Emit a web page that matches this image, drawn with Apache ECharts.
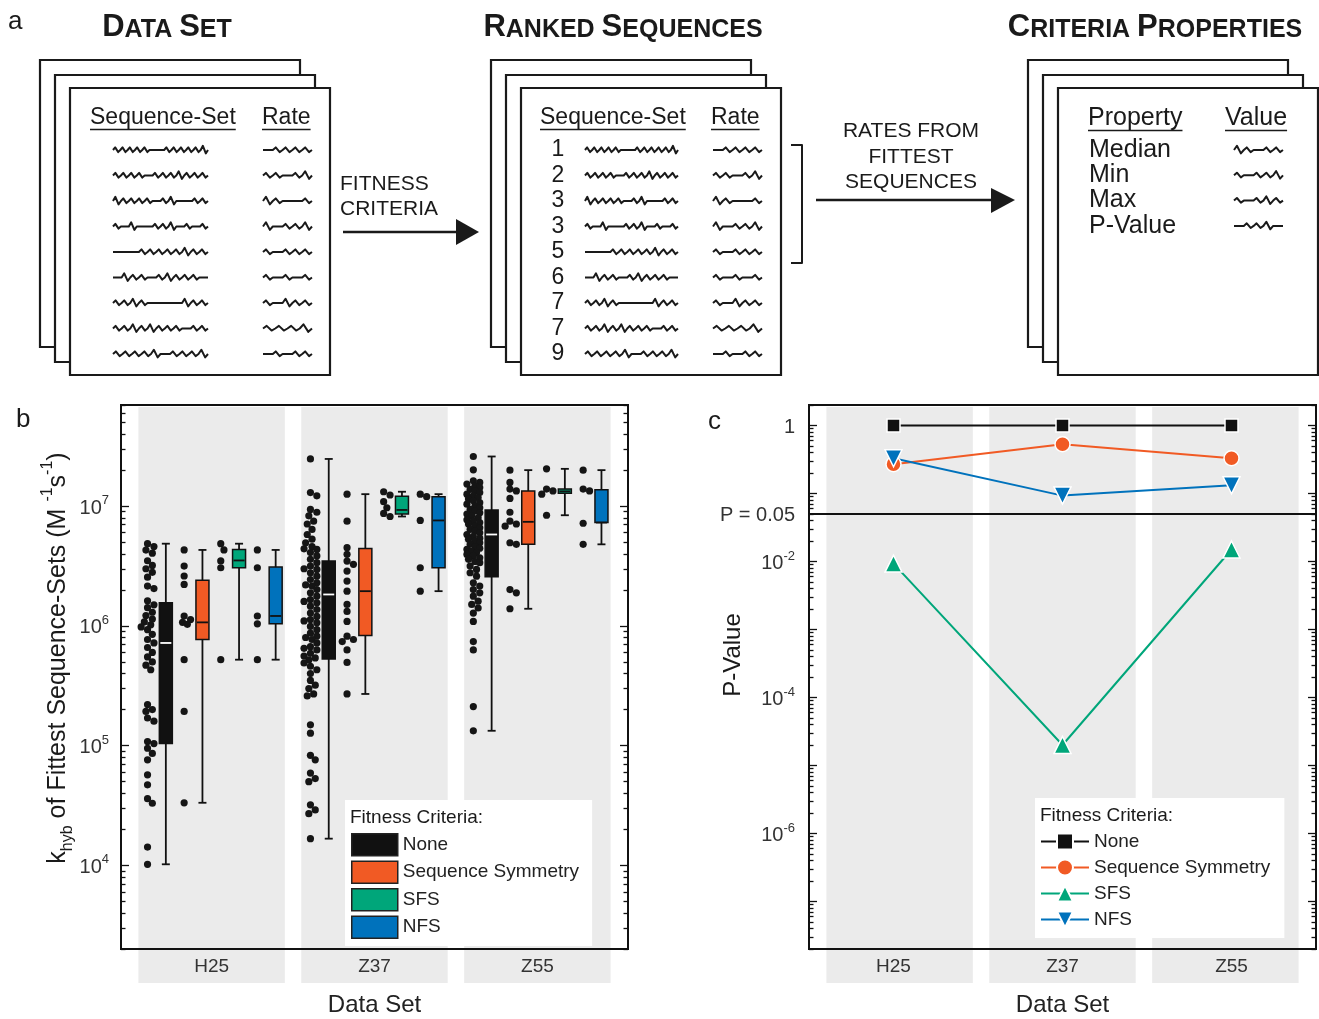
<!DOCTYPE html>
<html>
<head>
<meta charset="utf-8">
<script src="https://cdn.jsdelivr.net/npm/echarts@6/dist/echarts.min.js"></script>
<style>
  html, body { margin: 0; padding: 0; background: #fff; }
  #main { width: 1319px; height: 1019px; }
</style>
</head>
<body>
<div id="main"></div>
<script>
// ---------------- data ----------------
const dataSets = ['H25', 'Z37', 'Z55'];
const criteria = ['None', 'Sequence Symmetry', 'SFS', 'NFS'];
const criteriaColors = ['#111111', '#F15A24', '#00A67A', '#0072BC'];

// k_hyb of the fittest sequence-sets (M^-1 s^-1)
const h25None = [4.86e6, 4.6e6, 4.3e6, 4.05e6, 3.5e6, 3.2e6, 3.0e6, 2.8e6, 2.55e6, 2.15e6, 2.05e6, 1.62e6, 1.5e6, 1.42e6, 1.3e6, 1.22e6, 1.14e6, 1.08e6, 1.02e6, 9.8e5, 9.3e5, 8.5e5, 7.7e5, 7.2e5, 6.6e5, 6.0e5, 5.5e5, 5.0e5, 4.7e5, 4.3e5, 2.2e5, 2.0e5, 1.93e5, 1.7e5, 1.6e5, 1.08e5, 1.04e5, 9.5e4, 8.6e4, 7.6e4, 5.7e4, 4.7e4, 3.6e4, 3.3e4, 1.42e4, 1.02e4];
const h25Sym = [4.31e6, 3.16e6, 2.61e6, 2.22e6, 1.21e6, 1.13e6, 1.07e6, 1.03e6, 5.22e5, 1.93e5, 3.33e4];
const h25Sfs = [4.86e6, 4.31e6, 3.49e6, 3.06e6, 5.22e5];
const h25Nfs = [4.31e6, 3.06e6, 1.21e6, 1.04e6, 5.22e5];

const z37None = [2.48e7, 1.30e7, 1.22e7, 9.4e6, 8.9e6, 8.3e6, 7.5e6, 7.1e6, 6.4e6, 5.8e6, 5.3e6, 4.95e6, 4.6e6, 4.4e6, 4.35e6, 4.1e6, 3.84e6, 3.6e6, 3.37e6, 3.16e6, 3.0e6, 2.96e6, 2.78e6, 2.6e6, 2.44e6, 2.29e6, 2.2e6, 2.15e6, 2.01e6, 1.89e6, 1.77e6, 1.66e6, 1.6e6, 1.56e6, 1.46e6, 1.37e6, 1.28e6, 1.2e6, 1.13e6, 1.1e6, 1.06e6, 9.9e5, 9.3e5, 8.7e5, 8.2e5, 8.0e5, 7.7e5, 7.2e5, 6.7e5, 6.5e5, 6.3e5, 5.9e5, 5.6e5, 5.4e5, 5.2e5, 4.9e5, 4.6e5, 4.3e5, 4.0e5, 3.5e5, 3.2e5, 3.0e5, 2.7e5, 2.6e5, 1.49e5, 1.27e5, 8.3e4, 7.6e4, 5.9e4, 5.3e4, 5.0e4, 3.2e4, 2.9e4, 2.7e4, 1.67e4];
const z37Sym = [1.26e7, 7.5e6, 4.5e6, 3.96e6, 3.48e6, 3.27e6, 2.87e6, 2.37e6, 1.95e6, 1.51e6, 1.32e6, 1.09e6, 8.2e5, 7.7e5, 7.4e5, 6.3e5, 4.95e5, 2.7e5];
const z37Sfs = [1.32e7, 1.24e7, 1.09e7, 9.7e6, 8.7e6, 8.2e6];
const z37Nfs = [1.26e7, 1.2e7, 7.6e6, 3.06e6, 1.95e6];

const z55None = [2.6e7, 2.01e7, 1.63e7, 1.58e7, 1.53e7, 1.48e7, 1.43e7, 1.38e7, 1.34e7, 1.3e7, 1.26e7, 1.22e7, 1.18e7, 1.15e7, 1.11e7, 1.07e7, 1.04e7, 1.0e7, 9.7e6, 9.4e6, 9.1e6, 8.8e6, 8.6e6, 8.3e6, 8.0e6, 7.7e6, 7.5e6, 7.3e6, 7.1e6, 6.8e6, 6.6e6, 6.4e6, 6.2e6, 6.0e6, 5.8e6, 5.6e6, 5.4e6, 5.3e6, 5.1e6, 4.95e6, 4.8e6, 4.6e6, 4.45e6, 4.35e6, 4.2e6, 4.1e6, 3.95e6, 3.84e6, 3.7e6, 3.6e6, 3.45e6, 3.37e6, 3.16e6, 2.96e6, 2.78e6, 2.6e6, 2.29e6, 2.15e6, 2.01e6, 1.89e6, 1.77e6, 1.61e6, 1.51e6, 1.41e6, 1.28e6, 1.09e6, 7.4e5, 6.3e5, 2.12e5, 1.33e5];
const z55Sym = [2.0e7, 1.58e7, 1.39e7, 1.34e7, 1.16e7, 8.9e6, 7.5e6, 7.1e6, 6.8e6, 4.95e6, 4.8e6, 2.01e6, 1.89e6, 1.39e6];
const z55Sfs = [2.05e7, 1.39e7, 1.34e7, 1.26e7, 8.4e6];
const z55Nfs = [2.0e7, 1.39e7, 1.34e7, 7.2e6, 4.8e6];

// box statistics per data set: [min, Q1, median, Q3, max]
const boxNone = [[1.02e4, 1.04e5, 7.2e5, 1.56e6, 4.86e6], [1.67e4, 5.28e5, 1.83e6, 3.48e6, 2.48e7], [1.33e5, 2.57e6, 5.8e6, 9.3e6, 2.6e7]];
const boxSym  = [[3.33e4, 7.68e5, 1.07e6, 2.40e6, 4.31e6], [2.7e5, 8.3e5, 1.95e6, 4.42e6, 1.26e7], [1.39e6, 4.8e6, 7.4e6, 1.34e7, 2.0e7]];
const boxSfs  = [[5.22e5, 3.06e6, 3.52e6, 4.35e6, 4.86e6], [8.2e6, 8.6e6, 9.3e6, 1.21e7, 1.32e7], [8.4e6, 1.28e7, 1.33e7, 1.39e7, 2.05e7]];
const boxNfs  = [[5.22e5, 1.04e6, 1.21e6, 3.1e6, 4.31e6], [1.95e6, 3.06e6, 7.6e6, 1.2e7, 1.26e7], [4.8e6, 7.3e6, 7.3e6, 1.37e7, 2.0e7]];

// P-values of the fittest-set rates per data set
const pNone = [1, 1, 1];
const pSym  = [0.27, 0.53, 0.33];
const pSfs  = [0.0093, 2.0e-5, 0.015];
const pNfs  = [0.33, 0.093, 0.132];

// axis ticks
const kLabelTicks = [1e4, 1e5, 1e6, 1e7];
const pLabelTicks = [1, 0.05, 0.01, 1e-4, 1e-6];
const pDecadeTicks = [1, 1e-1, 1e-2, 1e-3, 1e-4, 1e-5, 1e-6, 1e-7];
const minorMantissas = [2, 3, 4, 5, 6, 7, 8, 9];

// schematic text
const rankLabels = ['1', '2', '3', '3', '5', '6', '7', '7', '9'];
const propertyLabels = ['Median', 'Min', 'Max', 'P-Value'];

// ---------------- helpers ----------------
const FONT = '"Liberation Sans", Arial, Helvetica, sans-serif';
const INK = '#1a1a1a';
const BAND = '#EBEBEB';

const ratesByCriterion = [
  [h25None, z37None, z55None],
  [h25Sym, z37Sym, z55Sym],
  [h25Sfs, z37Sfs, z55Sfs],
  [h25Nfs, z37Nfs, z55Nfs]
];
const boxesByCriterion = [boxNone, boxSym, boxSfs, boxNfs];
const pByCriterion = [pNone, pSym, pSfs, pNfs];

// band layout along a hidden value axis (units = one sub-column)
const X_MAX = 27.7;
const bandStart = k => 0.95 + k * 8.9;
const bandCenter = k => bandStart(k) + 4;
const slotX = (k, j) => bandStart(k) + j + 0.5;

function minorTicks(lo, hi) {
  const out = [];
  for (let e = Math.floor(Math.log10(lo)); e <= Math.ceil(Math.log10(hi)); e++) {
    minorMantissas.forEach(m => {
      const v = m * Math.pow(10, e);
      if (v >= lo && v <= hi) out.push(v);
    });
  }
  return out;
}
function decadeTicks(lo, hi) {
  const out = [];
  for (let e = Math.ceil(Math.log10(lo)); e <= Math.floor(Math.log10(hi)); e++) out.push(Math.pow(10, e));
  return out;
}

// dots of panel b, placed in their sub-column
const dotData = [];
ratesByCriterion.forEach((perSet, c) => {
  perSet.forEach((vals, k) => {
    vals.forEach(v => dotData.push([slotX(k, 2 * c), v]));
  });
});

// simple beeswarm so overlapping dots spread sideways
const DOT_R = 3.6;
let swarmCache = null;
function computeSwarm(api) {
  const off = new Array(dotData.length).fill(0);
  const groups = {};
  dotData.forEach((d, i) => {
    (groups[d[0]] = groups[d[0]] || []).push(i);
  });
  const D = DOT_R * 2 * 0.9;
  Object.keys(groups).forEach(key => {
    const idx = groups[key];
    const ys = {};
    idx.forEach(i => { ys[i] = api.coord([dotData[i][0], dotData[i][1]])[1]; });
    const order = idx.slice().sort((a, b) => ys[a] - ys[b]);
    const placed = [];
    const cands = [0];
    for (let s = 1; s <= 4; s++) cands.push(s * 1.6, -s * 1.6);
    order.forEach(i => {
      let chosen = null, bestC = 0, bestOv = Infinity;
      for (const c of cands) {
        let worst = 0;
        for (const j of placed) {
          const dy = ys[j] - ys[i];
          if (Math.abs(dy) >= D) continue;
          const d = Math.hypot(off[j] - c, dy);
          if (d < D) worst = Math.max(worst, D - d);
        }
        if (worst === 0) { chosen = c; break; }
        if (worst < bestOv) { bestOv = worst; bestC = c; }
      }
      off[i] = chosen === null ? bestC : chosen;
      placed.push(i);
    });
  });
  return off;
}
function renderDot(params, api) {
  if (!swarmCache || swarmCache.h !== params.coordSys.height) {
    swarmCache = { h: params.coordSys.height, off: computeSwarm(api) };
  }
  const p = api.coord([api.value(0), api.value(1)]);
  return {
    type: 'circle',
    shape: { cx: p[0] + swarmCache.off[params.dataIndex], cy: p[1], r: DOT_R },
    style: { fill: '#151515' }
  };
}

function boxRenderer(c) {
  const medianColor = c === 0 ? '#ffffff' : '#111111';
  return function (params, api) {
    const x = api.value(0);
    const cx = api.coord([x, api.value(1)])[0];
    const y = i => api.coord([x, api.value(i)])[1];
    const yMin = y(1), yQ1 = y(2), yMed = y(3), yQ3 = y(4), yMax = y(5);
    const hb = 6.5, hc = 4;
    const stroke = { stroke: '#111', lineWidth: 1.8 };
    return {
      type: 'group',
      children: [
        { type: 'line', shape: { x1: cx, y1: yMin, x2: cx, y2: yMax }, style: stroke },
        { type: 'line', shape: { x1: cx - hc, y1: yMin, x2: cx + hc, y2: yMin }, style: stroke },
        { type: 'line', shape: { x1: cx - hc, y1: yMax, x2: cx + hc, y2: yMax }, style: stroke },
        { type: 'rect', shape: { x: cx - hb, y: yQ3, width: hb * 2, height: yQ1 - yQ3 },
          style: { fill: criteriaColors[c], stroke: '#111', lineWidth: 1.5 } },
        { type: 'line', shape: { x1: cx - hb + 1, y1: yMed, x2: cx + hb - 1, y2: yMed },
          style: { stroke: medianColor, lineWidth: 1.8 } }
      ]
    };
  };
}

function bandRenderer(yRef) {
  return function (params, api) {
    const k = api.value(0);
    const x0 = api.coord([bandStart(k), yRef])[0];
    const x1 = api.coord([bandStart(k) + 8, yRef])[0];
    const cs = params.coordSys;
    return {
      type: 'rect',
      shape: { x: x0, y: cs.y + 2, width: x1 - x0, height: cs.height + 32 },
      style: { fill: BAND }
    };
  };
}

function logAxis(grid, pos, min, max, ticks, len, label) {
  return {
    type: 'log', logBase: 10, gridIndex: grid, position: pos, offset: 0,
    min: min, max: max, z: 12,
    axisLine: { show: false },
    splitLine: { show: false },
    minorTick: { show: false },
    axisTick: { show: true, inside: true, length: len, customValues: ticks,
                lineStyle: { color: '#111', width: 1.3 } },
    axisLabel: label || { show: false }
  };
}
const supRich = {
  m: { fontSize: 20, color: '#333', fontFamily: FONT, lineHeight: 24, verticalAlign: 'bottom' },
  e: { fontSize: 13, color: '#333', fontFamily: FONT, lineHeight: 13, verticalAlign: 'top' }
};
const expLabel = v => '{m|10}{e|' + Math.round(Math.log10(v)) + '}';

// ---------------- schematic (panel a) ----------------
const measureCtx = document.createElement('canvas').getContext('2d');
function textWidth(str, size, weight) {
  measureCtx.font = (weight || 'normal') + ' ' + size + 'px ' + FONT;
  return measureCtx.measureText(str).width;
}
const G = [];
function addText(str, x, y, size, align, extra, z) {
  G.push({
    type: 'text', z: z || 20,
    style: Object.assign({
      text: str, x: x, y: y, fontSize: size, fontFamily: FONT, fill: INK,
      align: align || 'left', textAlign: align || 'left',
      verticalAlign: 'middle', textVerticalAlign: 'middle'
    }, extra || {})
  });
}
function addPolyline(points, w, z) {
  G.push({ type: 'polyline', z: z || 20, shape: { points: points },
           style: { stroke: INK, lineWidth: w || 2, fill: null, lineJoin: 'round' } });
}
function addArrowHead(points) {
  G.push({ type: 'polygon', z: 20, shape: { points: points }, style: { fill: INK } });
}
function addStack(x0) {
  [[0, 0], [15, 15], [30, 28]].forEach((o, i) => {
    G.push({ type: 'rect', z: 5 + i, shape: { x: x0 + o[0], y: 60 + o[1], width: 260, height: 287 },
             style: { fill: '#fff', stroke: INK, lineWidth: 2.2 } });
  });
}
function addHeader(str, x, y, size) {
  addText(str, x, y, size, 'left');
  const w = textWidth(str, size);
  addPolyline([[x, y + size * 0.5], [x + w, y + size * 0.5]], 1.3);
}
function squiggle(x0, x1, y, pattern) {
  const w = (x1 - x0) / pattern.length;
  const pts = [[x0, y]];
  for (let i = 0; i < pattern.length; i++) {
    const ch = pattern[i], x = x0 + i * w;
    if (ch === '-') { pts.push([x + w, y]); continue; }
    const a = ch === 'W' ? 4.2 : 2.6;
    pts.push([x + w * 0.3, y - a], [x + w * 0.7, y + a * 0.8], [x + w, y]);
  }
  return pts;
}
const seqPatterns = ['wwwww--wwwwwW', 'wwww-wwwWwww', 'Wwwww-wW--ww', 'w-W--wwW-w-w', '---wwwwwWww', '-Www-wWwww-', 'wwWw----Www', 'wwWwWwww-ww', 'wwwwW-wwwW'];
const ratePatterns = ['-wwww', 'ww-wW', 'Ww--w', 'W-wwW', 'w-www', 'w-w-w', 'w-Www', 'wwwW', '-w-ww'];
const propPatterns = ['Ww-ww', 'w-wwW', 'w-wWw', '-wwW-'];
const rowY = i => 150 + i * 25.5;

function smallCaps(words, cx, y) {
  const text = words.map(w => '{B|' + w[0] + '}{s|' + w.slice(1) + '}').join('{s| }');
  G.push({
    type: 'text', z: 20,
    style: {
      text: text, x: cx, y: y, align: 'center', textAlign: 'center',
      verticalAlign: 'middle', textVerticalAlign: 'middle',
      rich: {
        B: { fontSize: 31, fontWeight: 'bold', fontFamily: FONT, fill: INK, lineHeight: 31, verticalAlign: 'bottom' },
        s: { fontSize: 25, fontWeight: 'bold', fontFamily: FONT, fill: INK, lineHeight: 25, verticalAlign: 'bottom' }
      }
    }
  });
}

addText('a', 8, 22, 26, 'left');
smallCaps(['DATA', 'SET'], 167, 27);
smallCaps(['RANKED', 'SEQUENCES'], 623, 27);
smallCaps(['CRITERIA', 'PROPERTIES'], 1155, 27);

// data set
addStack(40);
addHeader('Sequence-Set', 90, 118, 23);
addHeader('Rate', 262, 118, 23);
seqPatterns.forEach((p, i) => addPolyline(squiggle(113, 208, rowY(i), p), 2));
ratePatterns.forEach((p, i) => addPolyline(squiggle(263, 312, rowY(i), p), 2));

// ranked sequences
addStack(491);
addHeader('Sequence-Set', 540, 118, 23);
addHeader('Rate', 711, 118, 23);
rankLabels.forEach((t, i) => addText(t, 558, rowY(i), 23, 'center'));
seqPatterns.forEach((p, i) => addPolyline(squiggle(585, 678, rowY(i), p), 2));
ratePatterns.forEach((p, i) => addPolyline(squiggle(713, 762, rowY(i), p), 2));
addPolyline([[791, 145], [802, 145], [802, 263], [791, 263]], 2);

// criteria properties
addStack(1028);
addHeader('Property', 1088, 118, 25);
addHeader('Value', 1225, 118, 25);
propertyLabels.forEach((t, i) => addText(t, 1089, 150 + i * 25.3, 25, 'left'));
propPatterns.forEach((p, i) => addPolyline(squiggle(1234, 1283, 150 + i * 25.3, p), 2));

// arrows
addText('FITNESS', 340, 184, 21, 'left');
addText('CRITERIA', 340, 209, 21, 'left');
addPolyline([[343, 232], [460, 232]], 2.6);
addArrowHead([[456, 219], [479, 232], [456, 245]]);
addText('RATES FROM', 911, 131, 21, 'center');
addText('FITTEST', 911, 157, 21, 'center');
addText('SEQUENCES', 911, 182, 21, 'center');
addPolyline([[816, 200], [994, 200]], 2.6);
addArrowHead([[991, 188], [1015, 200], [991, 213]]);

// panel letters, axis titles, legend titles
addText('b', 16, 420, 26, 'left');
addText('c', 708, 422, 26, 'left');
G.push({
  type: 'text', z: 20, x: 58, y: 658, rotation: Math.PI / 2,
  style: {
    text: '{t|k}{d|hyb}{t| of Fittest Sequence-Sets (M }{u|-1}{t|s}{u|-1}{t|)}',
    x: 0, y: 0, align: 'center', textAlign: 'center', verticalAlign: 'middle', textVerticalAlign: 'middle',
    rich: {
      t: { fontSize: 25, fontFamily: FONT, fill: INK, lineHeight: 36, verticalAlign: 'middle' },
      d: { fontSize: 16, fontFamily: FONT, fill: INK, lineHeight: 16, verticalAlign: 'bottom' },
      u: { fontSize: 16, fontFamily: FONT, fill: INK, lineHeight: 16, verticalAlign: 'top' }
    }
  }
});
G.push({
  type: 'text', z: 20, x: 733, y: 655, rotation: Math.PI / 2,
  style: { text: 'P-Value', x: 0, y: 0, fontSize: 24, fontFamily: FONT, fill: INK,
           align: 'center', textAlign: 'center', verticalAlign: 'middle', textVerticalAlign: 'middle' }
});
addText('Fitness Criteria:', 350, 818, 19, 'left', null, 100);
addText('Fitness Criteria:', 1040, 816, 19, 'left', null, 100);

// ---------------- chart ----------------
const K_MIN = 2000, K_MAX = 7e7;
const P_MIN = 2e-8, P_MAX = 2;

const series = [];
// grey bands, panel b
series.push({
  type: 'custom', name: 'bandsB', xAxisIndex: 0, yAxisIndex: 0, z: 1, silent: true, clip: false,
  data: dataSets.map((d, k) => [k, 1e5]), encode: { x: 0, y: 1 },
  renderItem: bandRenderer(1e5)
});
// dots, panel b
series.push({
  type: 'custom', name: 'rates', xAxisIndex: 0, yAxisIndex: 0, z: 3, silent: true,
  data: dotData, encode: { x: 0, y: 1 }, renderItem: renderDot
});
// boxes, panel b
criteria.forEach((name, c) => {
  series.push({
    type: 'custom', name: name, xAxisIndex: 0, yAxisIndex: 0, z: 4, silent: true,
    itemStyle: { color: criteriaColors[c] },
    data: boxesByCriterion[c].map((b, k) => [slotX(k, 2 * c + 1)].concat(b)),
    encode: { x: 0, y: [1, 2, 3, 4, 5] },
    renderItem: boxRenderer(c)
  });
});
// grey bands, panel c
series.push({
  type: 'custom', name: 'bandsC', xAxisIndex: 2, yAxisIndex: 4, z: 1, silent: true, clip: false,
  data: dataSets.map((d, k) => [k, 1e-3]), encode: { x: 0, y: 1 },
  renderItem: bandRenderer(1e-3)
});
// P-value lines, panel c
const pSymbols = [
  { symbol: 'rect', symbolSize: 13, symbolRotate: 0 },
  { symbol: 'circle', symbolSize: 15, symbolRotate: 0 },
  { symbol: 'triangle', symbolSize: 17, symbolRotate: 0 },
  { symbol: 'triangle', symbolSize: 17, symbolRotate: 180 }
];
criteria.forEach((name, c) => {
  const s = {
    type: 'line', name: name + '|c', xAxisIndex: 1, yAxisIndex: 4, z: 5,
    data: pByCriterion[c],
    symbol: pSymbols[c].symbol, symbolSize: pSymbols[c].symbolSize, symbolRotate: pSymbols[c].symbolRotate,
    showAllSymbol: true,
    lineStyle: { color: criteriaColors[c], width: 2 },
    itemStyle: { color: criteriaColors[c], borderColor: '#fff', borderWidth: 1.5 },
    emphasis: { disabled: true }
  };
  if (c === 0) {
    s.markLine = {
      silent: true, symbol: 'none', label: { show: false },
      lineStyle: { color: '#111', width: 2, type: 'solid' },
      data: [{ yAxis: 0.05 }]
    };
  }
  series.push(s);
});

const xLabelStyle = { fontSize: 19, color: '#333', fontFamily: FONT, margin: 8 };
const xNameStyle = { fontSize: 24, color: '#222', fontFamily: FONT };

const option = {
  animation: false,
  backgroundColor: '#ffffff',
  textStyle: { fontFamily: FONT },
  graphic: { elements: G },
  grid: [
    { left: 121, top: 405, width: 507, height: 544, show: true, borderColor: '#111', borderWidth: 2,
      backgroundColor: 'transparent', z: 10, containLabel: false, outerBoundsMode: 'none' },
    { left: 809, top: 405, width: 507, height: 544, show: true, borderColor: '#111', borderWidth: 2,
      backgroundColor: 'transparent', z: 10, containLabel: false, outerBoundsMode: 'none' }
  ],
  xAxis: [
    { type: 'value', gridIndex: 0, position: 'bottom', min: 0, max: X_MAX, z: 12,
      axisLine: { show: false }, axisTick: { show: false }, splitLine: { show: false },
      axisLabel: Object.assign({ customValues: dataSets.map((d, k) => bandCenter(k)),
        formatter: v => dataSets[Math.round((v - bandCenter(0)) / 8.9)] }, xLabelStyle),
      name: 'Data Set', nameLocation: 'middle', nameGap: 44, nameTextStyle: xNameStyle },
    { type: 'category', gridIndex: 1, position: 'bottom', data: dataSets, boundaryGap: true, z: 12,
      axisLine: { show: false }, axisTick: { show: false }, splitLine: { show: false },
      axisLabel: xLabelStyle,
      name: 'Data Set', nameLocation: 'middle', nameGap: 44, nameTextStyle: xNameStyle },
    { type: 'value', gridIndex: 1, position: 'bottom', min: 0, max: X_MAX, show: false }
  ],
  yAxis: [
    logAxis(0, 'left', K_MIN, K_MAX, decadeTicks(K_MIN, K_MAX), 8,
      { show: true, customValues: kLabelTicks, formatter: expLabel, rich: supRich, margin: 12 }),
    logAxis(0, 'left', K_MIN, K_MAX, minorTicks(K_MIN, K_MAX), 4.5),
    logAxis(0, 'right', K_MIN, K_MAX, decadeTicks(K_MIN, K_MAX), 8),
    logAxis(0, 'right', K_MIN, K_MAX, minorTicks(K_MIN, K_MAX), 4.5),
    logAxis(1, 'left', P_MIN, P_MAX, pDecadeTicks, 8,
      { show: true, customValues: pLabelTicks, rich: supRich, margin: 14,
        formatter: v => {
          if (Math.abs(v - 1) < 1e-9) return '{m|1}';
          if (Math.abs(v / 0.05 - 1) < 1e-6) return '{m|P = 0.05}';
          return expLabel(v);
        } }),
    logAxis(1, 'left', P_MIN, P_MAX, minorTicks(P_MIN, P_MAX), 4.5),
    logAxis(1, 'right', P_MIN, P_MAX, pDecadeTicks, 8),
    logAxis(1, 'right', P_MIN, P_MAX, minorTicks(P_MIN, P_MAX), 4.5)
  ],
  legend: [
    { data: criteria.slice(), left: 345, top: 800, orient: 'vertical', backgroundColor: '#fff',
      padding: [33, 13, 7, 6], itemGap: 4, itemWidth: 46, itemHeight: 22, icon: 'rect',
      itemStyle: { borderColor: '#222', borderWidth: 1.5 },
      textStyle: { fontSize: 19, color: '#222', fontFamily: FONT }, selectedMode: false },
    { data: criteria.map(n => n + '|c'), left: 1035, top: 798, orient: 'vertical', backgroundColor: '#fff',
      padding: [34, 14, 9, 5], itemGap: 7, itemWidth: 48, itemHeight: 20,
      formatter: n => n.replace('|c', ''),
      textStyle: { fontSize: 19, color: '#222', fontFamily: FONT }, selectedMode: false }
  ],
  series: series
};

const chart = echarts.init(document.getElementById('main'), null, { renderer: 'canvas' });
chart.setOption(option);
</script>
</body>
</html>
